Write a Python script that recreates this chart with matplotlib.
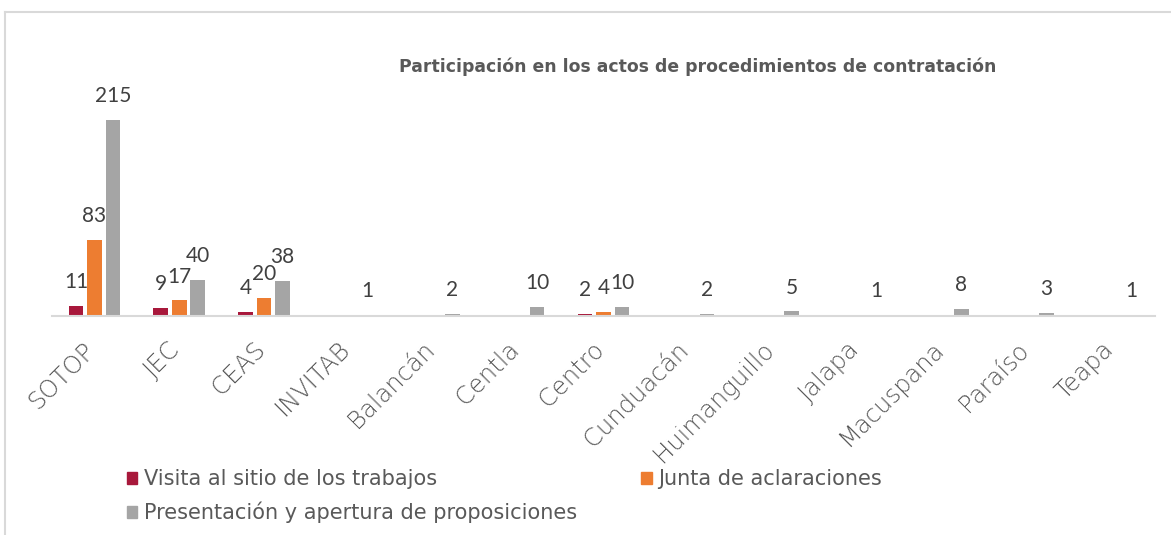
import matplotlib
matplotlib.use("Agg")
import matplotlib.pyplot as plt
import numpy as np
from matplotlib.patches import Patch
from matplotlib.lines import Line2D
import matplotlib.transforms as mtransforms

categories = ["SOTOP", "JEC", "CEAS", "INVITAB", "Balancán", "Centla", "Centro",
              "Cunduacán", "Huimanguillo", "Jalapa", "Macuspana", "Paraíso", "Teapa"]
visita = [11, 9, 4, 0, 0, 0, 2, 0, 0, 0, 0, 0, 0]
junta = [83, 17, 20, 0, 0, 0, 4, 0, 0, 0, 0, 0, 0]
presentacion = [215, 40, 38, 1, 2, 10, 10, 2, 5, 1, 8, 3, 1]
series_names = ["Visita al sitio de los trabajos", "Junta de aclaraciones",
                "Presentación y apertura de proposiciones"]
title = "Participación en los actos de procedimientos de contratación"

colors = ["#A8183B", "#ED7D31", "#A5A5A5"]
W, H = 1171, 535
fig = plt.figure(figsize=(W / 100, H / 100), dpi=100)
fig.patch.set_facecolor("white")

# outer chart border (top and left visible)
fig.add_artist(Line2D([5 / W, 5 / W], [0, 1 - 12 / H], color="#d9d9d9", lw=1.5))
fig.add_artist(Line2D([5 / W, 1], [1 - 12 / H, 1 - 12 / H], color="#d9d9d9", lw=1.5))

ax = fig.add_axes([52 / W, 1 - 316 / H, 1103 / W, 228 / H])
x = np.arange(len(categories))
bw = 0.172
step = 0.218
label_font = dict(family="Lato", size=15, color="#404040")
for i, (vals, c) in enumerate(zip([visita, junta, presentacion], colors)):
    pos = x + (i - 1) * step
    bars = ax.bar(pos, vals, width=bw, color=c, zorder=2)
    for b, v in zip(bars, vals):
        if v > 0:
            ax.annotate(str(v), (b.get_x() + b.get_width() / 2, v),
                        xytext=(0, 10), textcoords="offset points",
                        ha="center", va="bottom", **label_font)

ax.set_xlim(-0.5, len(categories) - 0.5)
ax.set_ylim(0, 250)
for s in ["top", "right", "left"]:
    ax.spines[s].set_visible(False)
ax.spines["bottom"].set_color("#d9d9d9")
ax.spines["bottom"].set_linewidth(1.5)
ax.set_yticks([])
ax.set_xticks(x)
ax.set_xticklabels(categories, rotation=45, ha="right", va="baseline",
                   rotation_mode="anchor", fontsize=17.5, color="#595959",
                   family="DejaVu Sans", fontweight="light")
ax.tick_params(axis="x", length=0, pad=25)
shift = mtransforms.ScaledTranslation(2 / 100, 0, fig.dpi_scale_trans)
for lab in ax.get_xticklabels():
    lab.set_transform(lab.get_transform() + shift)

fig.text(698 / W, 1 - 67 / H, title, ha="center", va="center",
         fontsize=12.4, fontweight="bold", color="#595959", family="DejaVu Sans")

handles = [Patch(color=colors[0]), Patch(color=colors[2]), Patch(color=colors[1])]
labels = [series_names[0], series_names[2], series_names[1]]
leg = fig.legend(handles, labels, ncol=2, loc="upper left",
                 bbox_to_anchor=(127 / W, 1 - 469 / H), frameon=False,
                 prop=dict(family="DejaVu Sans", size=15),
                 handlelength=0.5, handleheight=0.5, handletextpad=0.3,
                 columnspacing=3.1, labelspacing=0.6, labelcolor="#595959",
                 borderaxespad=0, borderpad=0)

fig.savefig("out.png", dpi=100, facecolor="white")
